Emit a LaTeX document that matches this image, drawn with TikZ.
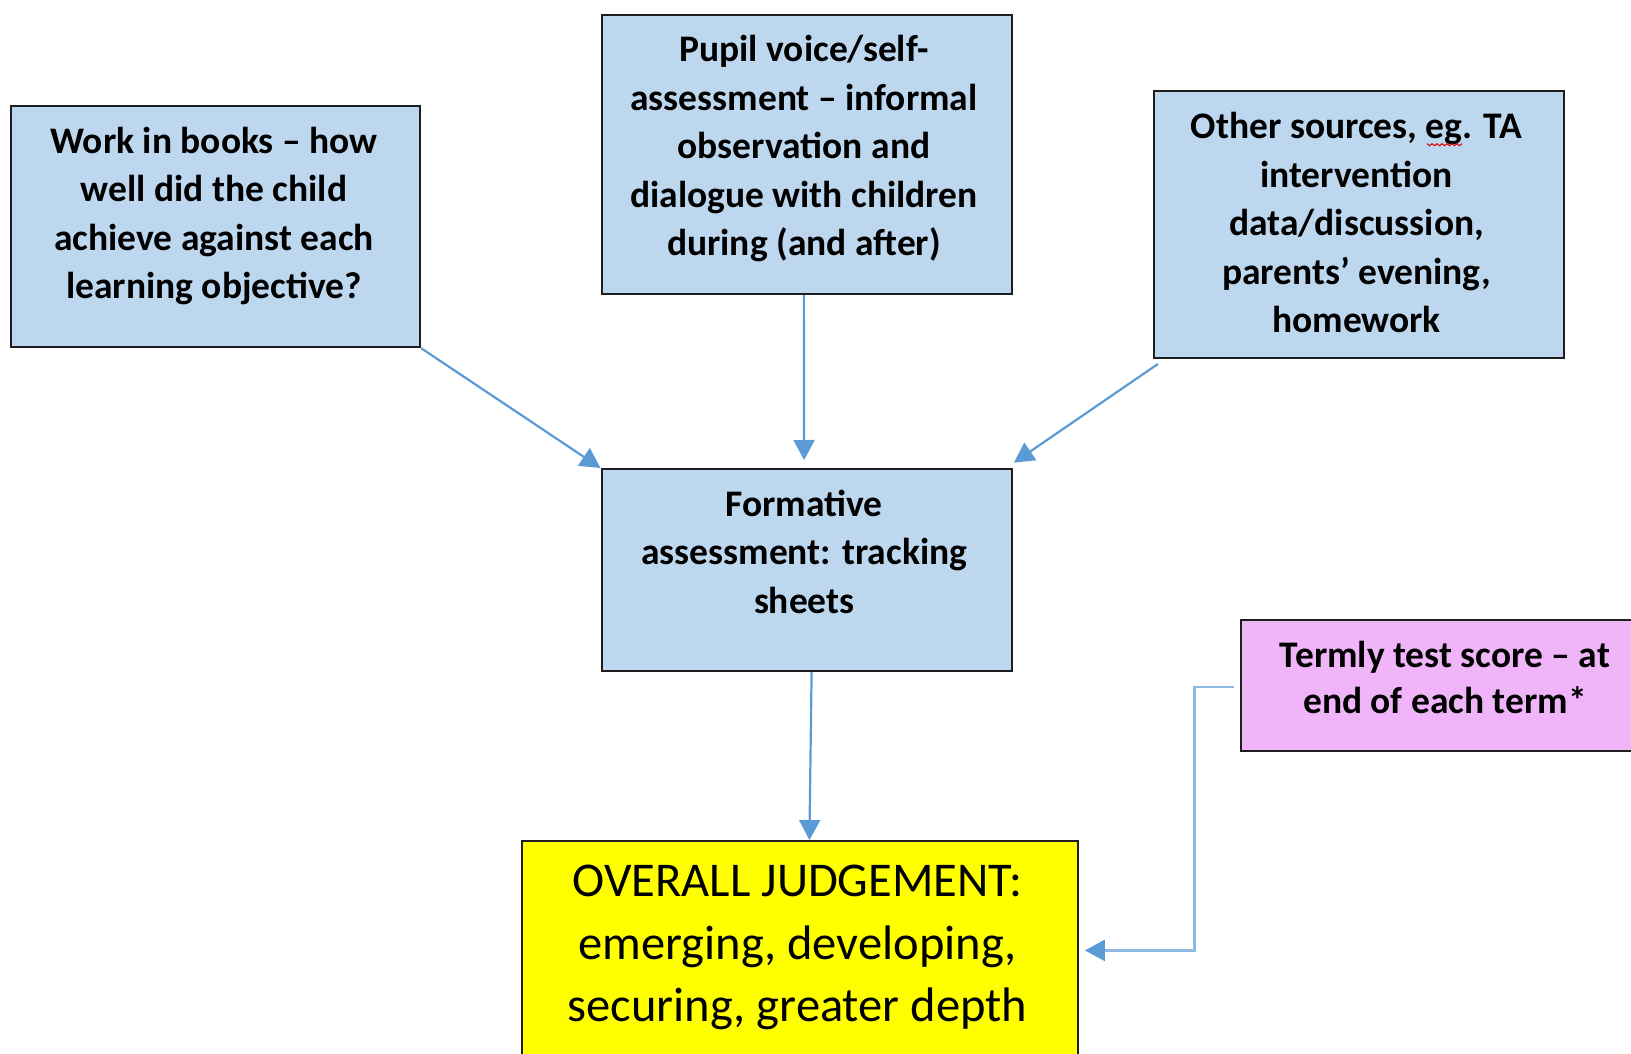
\documentclass[tikz,border=0pt]{standalone}
\usepackage{fontspec}
\setmainfont{Carlito}
\usetikzlibrary{arrows.meta,calc}
\definecolor{boxblue}{HTML}{BDD7EE}
\definecolor{boxpink}{HTML}{F0B4F8}
\definecolor{boxyellow}{HTML}{FFFF00}
\definecolor{edgegray}{HTML}{1E1E1E}
\definecolor{arrowblue}{HTML}{5B9BD5}
\definecolor{lightarrow}{HTML}{8DB9E4}
\tikzset{
  boxshape/.style={draw=edgegray, line width=2.2pt, inner sep=0pt, anchor=north west, rectangle},
  boldtxt/.style={inner sep=0pt, anchor=north, align=center, font={\fontsize{37.5}{48.5}\selectfont\bfseries}},
  termtxt/.style={inner sep=0pt, anchor=north, align=center, font={\fontsize{37.5}{46}\selectfont\bfseries}},
  bigtxt/.style={inner sep=0pt, anchor=north, align=center, font={\fontsize{48.5}{62.5}\selectfont}},
  conn/.style={draw=arrowblue, line width=2.2pt, -{Triangle[length=20pt,width=21pt]}},
  elbowconn/.style={draw=lightarrow, line width=2.4pt, -{Triangle[length=20pt,width=21pt,color=arrowblue,fill=arrowblue]}}
}
\begin{document}
\begin{tikzpicture}[x=1pt,y=-1pt]
\useasboundingbox (0,0) rectangle (1631,1053);
\begin{scope}
\clip (0,0) rectangle (1631,1053);
% boxes
\node[boxshape, fill=boxblue, minimum width=409.5pt, minimum height=241pt] (A) at (9.5,105) {};
\node[boxshape, fill=boxblue, minimum width=409.5pt, minimum height=279.5pt] (B) at (601,13.5) {};
\node[boxshape, fill=boxblue, minimum width=410pt, minimum height=267pt] (C) at (1153,90) {};
\node[boxshape, fill=boxblue, minimum width=410pt, minimum height=202pt] (D) at (600.5,468) {};
\node[boxshape, fill=boxpink, minimum width=407.5pt, minimum height=131pt] (E) at (1239.5,619) {};
\node[boxshape, fill=boxyellow, minimum width=556pt, minimum height=250pt] (F) at (521,840) {};
% texts
\node[boldtxt] (At) at (214,119) {\strut Work in books -- how\\ \strut well did the child\\ \strut achieve against each\\ \strut learning objective?};
\node[boldtxt] (Bt) at (804,27.7) {\strut Pupil voice/self-\\ \strut assessment -- informal\\ \strut observation and\\ \strut dialogue with children\\ \strut during (and after)};
\node[boldtxt] (Ct) at (1356.5,104.7) {\strut Other sources, eg. TA\\ \strut intervention\\ \strut data/discussion,\\ \strut parents’ evening,\\ \strut homework};
\node[boldtxt] (Dt) at (804.3,482) {\strut Formative\\ \strut assessment: tracking\\ \strut sheets};
\node[termtxt] (Et) at (1445,634.8) {\strut Termly test score -- at\\ \strut end of each term*};
\node[bigtxt] (Ft) at (797.5,853) {\strut OVERALL JUDGEMENT:\\ \strut emerging, developing,\\ \strut securing, greater depth};
% spell-check squiggle under "eg"
\draw[red!85!black, line width=1pt] ($(Ct.north)+(70.5,39)$) \foreach \i in {0,...,6} { -- ++(2.5,2) -- ++(2.5,-2)};
% connectors
\draw[conn] (A.south east) -- (D.north west);
\draw[conn] ($(B.south)+(-3,0)$) -- ($(D.north)+(-2.5,-8)$);
\draw[conn] ($(C.south west)+(5,4.7)$) -- ($(D.north east)+(1.2,-5.3)$);
\draw[conn] ($(D.south)+(5,0)$) -- ($(F.north)+(9.3,0)$);
\draw[elbowconn] ($(E.west)+(-5.5,1.5)$) -- ++(-39.5,0) |- ($(F.east)+(5.7,-15.7)$);
\end{scope}
\end{tikzpicture}
\end{document}
